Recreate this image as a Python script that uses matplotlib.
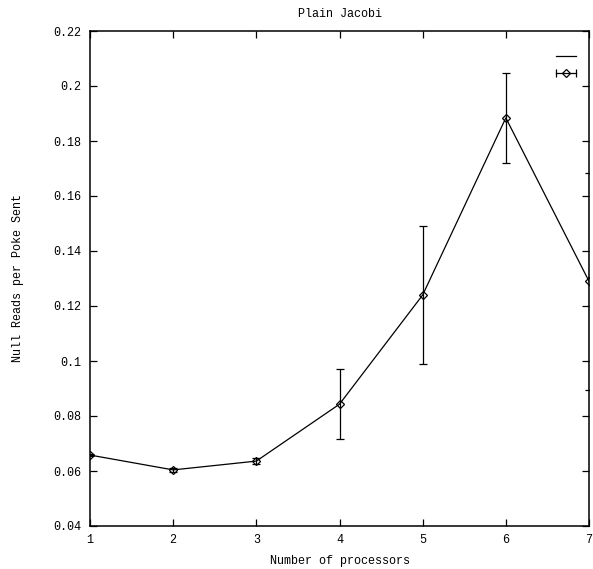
import matplotlib
matplotlib.use("Agg")
import matplotlib.pyplot as plt
from matplotlib.lines import Line2D
from matplotlib.legend_handler import HandlerLine2D, HandlerTuple

processors = [1, 2, 3, 4, 5, 6, 7]
null_reads = [0.0658, 0.0604, 0.0636, 0.0843, 0.1240, 0.1884, 0.1290]
errors = [0.0004, 0.0006, 0.0011, 0.0127, 0.0251, 0.0165, 0.0395]
yticks = [0.04, 0.06, 0.08, 0.1, 0.12, 0.14, 0.16, 0.18, 0.2, 0.22]
yticklabels = ["0.04", "0.06", "0.08", "0.1", "0.12", "0.14", "0.16", "0.18", "0.2", "0.22"]

plt.rcParams['font.family'] = ['Liberation Mono', 'DejaVu Sans Mono']
plt.rcParams['font.size'] = 8.5

fig = plt.figure(figsize=(5.93, 5.69), dpi=100)
ax = fig.add_axes([90/593, 1-526/569, (589-90)/593, (526-31)/569])

ax.plot(processors, null_reads, color='black', lw=0.9)
ax.errorbar(processors, null_reads, yerr=errors, fmt='D', ms=4, mfc='none',
            mec='black', mew=0.9, ecolor='black', elinewidth=0.9, capsize=3,
            capthick=0.9, color='black')

ax.set_xlim(1, 7)
ax.set_ylim(0.04, 0.22)
ax.set_xticks(processors)
ax.set_xticklabels([str(p) for p in processors])
ax.set_yticks(yticks)
ax.set_yticklabels(yticklabels)
ax.tick_params(direction='in', top=True, right=True, length=5, width=0.9, pad=6)
for s in ax.spines.values():
    s.set_linewidth(1.1)

ax.set_title("Plain Jacobi", fontsize=8.5, pad=10)
ax.set_xlabel("Number of processors", labelpad=6)
ax.set_ylabel("Null Reads per Poke Sent", labelpad=21)

h1 = Line2D([], [], color='black', lw=0.9)
caps = Line2D([], [], color='black', lw=0.9, marker='|', ms=6, mew=0.9)
dia = Line2D([], [], color='black', lw=0, marker='D', ms=4, mfc='none', mew=0.9)
leg = ax.legend([h1, (caps, dia)], ["", ""], loc='upper right',
                bbox_to_anchor=(1.0, 0.986), frameon=False,
                handlelength=1.7, handletextpad=0.0, borderaxespad=0.7,
                labelspacing=0.4,
                handler_map={caps: HandlerLine2D(numpoints=2, marker_pad=0.0),
                             tuple: HandlerTuple(ndivide=1)})

fig.savefig("out.png", dpi=100)
